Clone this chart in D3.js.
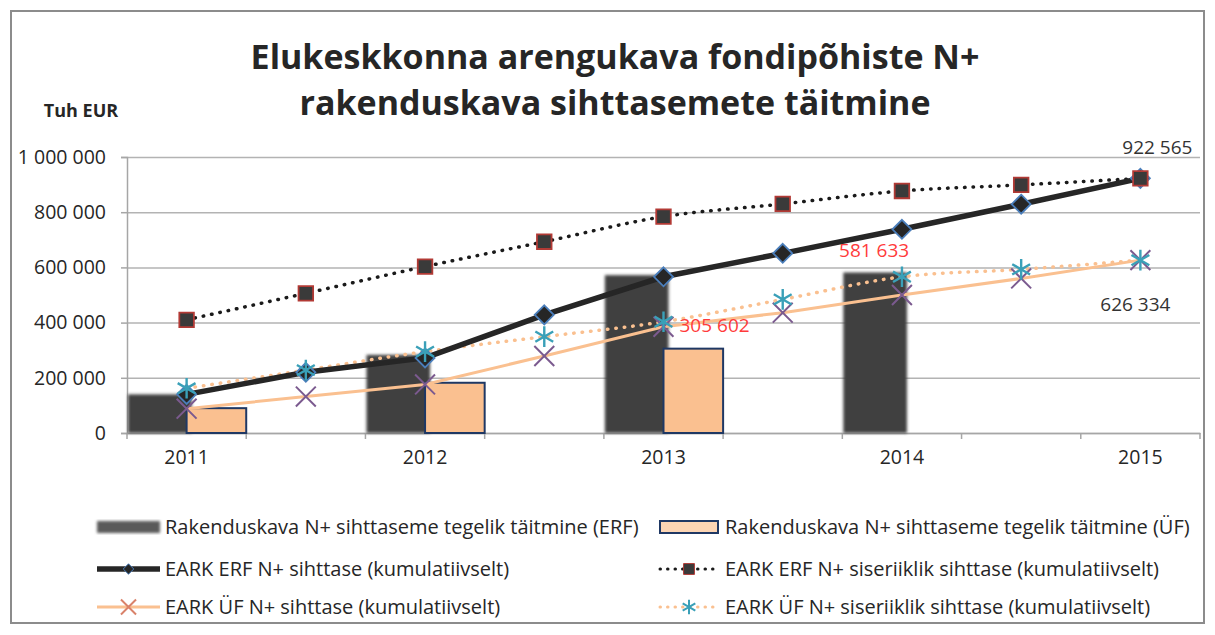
<!DOCTYPE html>
<html lang="et">
  <head>
    <meta charset="utf-8">
    <script src="https://d3js.org/d3.v7.min.js"></script>
    <style>
      body { margin: 0; background: #fff; }
      svg text { font-family: "Open Sans", Lato, sans-serif; fill: #262626; }
      .grid line { stroke: #b3b3b3; stroke-width: 1.5; }
      .grid path { display: none; }
      .ylab text { font-size: 19.5px; }
      .xlab text { font-size: 19.5px; }
      .legend text { font-size: 20px; }
    </style>
  </head>
  <body>
    <svg width="1215" height="635"></svg>
    <script>
      // categories (half-year steps, only whole years labelled)
      var periods = ["2011", "2011b", "2012", "2012b", "2013", "2013b", "2014", "2014b", "2015"];
      var tickLabels = ["2011", "", "2012", "", "2013", "", "2014", "", "2015"];
      var yTicks = [0, 200000, 400000, 600000, 800000, 1000000];

      // bars: actual fulfilment
      var erfActual = [140000, null, 283000, null, 572000, null, 581633, null, null];
      var ufActual = [90000, null, 182000, null, 305602, null, null, null, null];

      // lines: targets (cumulative)
      var erfTarget = [140000, 220000, 272000, 428000, 566000, 651000, 738000, 829000, 922565];
      var erfNational = [410000, 506000, 603000, 693000, 784000, 830000, 877000, 899000, 922565];
      var ufTarget = [88000, 132000, 176000, 279000, 385000, 436000, 500000, 560000, 626334];
      var ufNational = [162000, 228000, 295000, 349000, 403000, 484000, 566000, 593000, 626334];

      var legendLabels = [
        "Rakenduskava N+ sihttaseme tegelik täitmine (ERF)",
        "Rakenduskava N+ sihttaseme tegelik täitmine (ÜF)",
        "EARK ERF N+ sihttase (kumulatiivselt)",
        "EARK ERF N+ siseriiklik sihttase (kumulatiivselt)",
        "EARK ÜF N+ sihttase (kumulatiivselt)",
        "EARK ÜF N+ siseriiklik sihttase (kumulatiivselt)"
      ];

      var svg = d3.select("svg");
      var locale = d3.formatLocale({ thousands: " ", grouping: [3], decimal: ",", currency: ["", ""] });
      var fmt = locale.format(",");

      var pLeft = 127, pRight = 1200, pTop = 157, pBottom = 433;

      var x = d3.scaleBand().domain(periods).range([pLeft, pRight]).padding(0);
      var y = d3.scaleLinear().domain([0, 1000000]).range([pBottom, pTop]);
      var bw = x.bandwidth();
      var cx = function (i) { return x(periods[i]) + bw / 2; };

      // soft edges on the dark bars
      var defs = svg.append("defs");
      defs.append("filter").attr("id", "soft")
        .attr("x", "-10%").attr("y", "-10%").attr("width", "120%").attr("height", "120%")
        .append("feGaussianBlur").attr("stdDeviation", 1.6);

      // outer frame
      svg.append("rect")
        .attr("x", 11).attr("y", 11).attr("width", 1193).attr("height", 612)
        .attr("fill", "none").attr("stroke", "#8c8c8c").attr("stroke-width", 2);

      // title
      var title = svg.append("text")
        .attr("text-anchor", "middle")
        .attr("font-weight", "bold")
        .attr("font-size", "34px");
      title.append("tspan").attr("x", 615).attr("y", 69).text("Elukeskkonna arengukava fondipõhiste N+");
      title.append("tspan").attr("x", 615).attr("y", 115).text("rakenduskava sihttasemete täitmine");

      svg.append("text")
        .attr("x", 81).attr("y", 117)
        .attr("text-anchor", "middle")
        .attr("font-weight", "bold")
        .attr("font-size", "18px")
        .text("Tuh EUR");

      // gridlines
      svg.append("g")
        .attr("class", "grid")
        .attr("transform", "translate(" + pLeft + ",0)")
        .call(d3.axisLeft(y).tickValues(yTicks).tickSize(-(pRight - pLeft)).tickFormat(""));

      // y axis
      var yAxis = svg.append("g")
        .attr("class", "ylab")
        .attr("transform", "translate(" + pLeft + ",0)")
        .call(d3.axisLeft(y).tickValues(yTicks).tickSize(6).tickPadding(15).tickFormat(fmt));
      yAxis.select(".domain").attr("stroke", "#a6a6a6").attr("stroke-width", 1.5);
      yAxis.selectAll(".tick line").attr("stroke", "#a6a6a6").attr("stroke-width", 1.5);
      yAxis.selectAll("text").attr("fill", "#262626");

      // x axis
      var xAxis = svg.append("g")
        .attr("class", "xlab")
        .attr("transform", "translate(0," + pBottom + ")")
        .call(d3.axisBottom(x).tickSize(0).tickPadding(17).tickFormat(function (d, i) { return tickLabels[i]; }));
      xAxis.select(".domain").attr("stroke", "#a6a6a6").attr("stroke-width", 1.5);
      xAxis.selectAll("text").attr("fill", "#262626");
      // tick marks sit on category boundaries
      var bounds = periods.map(function (p) { return x(p); }).concat([x.range()[1]]);
      xAxis.selectAll(".bnd").data(bounds).enter().append("line")
        .attr("x1", function (d) { return d; }).attr("x2", function (d) { return d; })
        .attr("y1", 0).attr("y2", 6)
        .attr("stroke", "#a6a6a6").attr("stroke-width", 1.5);

      // bars
      svg.append("g").selectAll("rect")
        .data(erfActual.map(function (v, i) { return { v: v, i: i }; }).filter(function (d) { return d.v; }))
        .enter().append("rect")
        .attr("x", function (d) { return x(periods[d.i]) + 1; })
        .attr("y", function (d) { return y(d.v); })
        .attr("width", bw / 2 + 4)
        .attr("height", function (d) { return y(0) - y(d.v); })
        .attr("fill", "#3f3f3f")
        .attr("filter", "url(#soft)");

      svg.append("g").selectAll("rect")
        .data(ufActual.map(function (v, i) { return { v: v, i: i }; }).filter(function (d) { return d.v; }))
        .enter().append("rect")
        .attr("x", function (d) { return x(periods[d.i]) + bw / 2; })
        .attr("y", function (d) { return y(d.v); })
        .attr("width", bw / 2)
        .attr("height", function (d) { return y(0) - y(d.v); })
        .attr("fill", "#fac090")
        .attr("stroke", "#1f3864")
        .attr("stroke-width", 2);

      // lines
      function line(curve) {
        return d3.line().x(function (d, i) { return cx(i); }).y(function (d) { return y(d); }).curve(curve);
      }

      svg.append("path").datum(erfNational)
        .attr("d", line(d3.curveMonotoneX))
        .attr("fill", "none").attr("stroke", "#1a1a1a").attr("stroke-width", 3.5)
        .attr("stroke-dasharray", "0.5,8").attr("stroke-linecap", "round");

      svg.append("path").datum(ufNational)
        .attr("d", line(d3.curveMonotoneX))
        .attr("fill", "none").attr("stroke", "#fac090").attr("stroke-width", 3.5)
        .attr("stroke-dasharray", "0.5,8").attr("stroke-linecap", "round");

      svg.append("path").datum(ufTarget)
        .attr("d", line(d3.curveLinear))
        .attr("fill", "none").attr("stroke", "#fac090").attr("stroke-width", 3);

      svg.append("path").datum(erfTarget)
        .attr("d", line(d3.curveLinear))
        .attr("fill", "none").attr("stroke", "#262626").attr("stroke-width", 5.5);

      // markers
      var diamond = d3.symbol().type(d3.symbolDiamond2).size(230);
      var square = d3.symbol().type(d3.symbolSquare2).size(270);
      var times = d3.symbol().type(d3.symbolTimes).size(260);
      var aster = d3.symbol().type(d3.symbolAsterisk).size(300);

      function markers(data, sym, fill, stroke, sw) {
        svg.append("g").selectAll("path").data(data).enter().append("path")
          .attr("transform", function (d, i) { return "translate(" + cx(i) + "," + y(d) + ")"; })
          .attr("d", sym)
          .attr("fill", fill).attr("stroke", stroke).attr("stroke-width", sw);
      }
      markers(erfTarget, diamond, "#262626", "#4a7ebb", 1.8);
      markers(erfNational, square, "#3a3a3a", "#b23a35", 1.8);
      markers(ufTarget, times, "none", "#7b5a8f", 2);
      markers(ufNational, aster, "none", "#3aa0b8", 2.4);

      // data labels
      svg.append("text")
        .attr("x", cx(4) + 16).attr("y", y(ufNational[4]) + 10)
        .attr("font-size", "19px").style("fill", "#ff3b3b")
        .text(fmt(ufActual[4]));
      svg.append("text")
        .attr("x", x(periods[6]) + bw / 4 + 2).attr("y", y(erfActual[6]) - 15)
        .attr("text-anchor", "middle")
        .attr("font-size", "19px").style("fill", "#ff3b3b")
        .text(fmt(erfActual[6]));
      svg.append("text")
        .attr("x", cx(8) + 17).attr("y", pTop - 3)
        .attr("text-anchor", "middle")
        .attr("font-size", "19px").style("fill", "#333")
        .text(fmt(erfTarget[8]));
      svg.append("text")
        .attr("x", cx(8) - 5).attr("y", y(ufTarget[8]) + 51)
        .attr("text-anchor", "middle")
        .attr("font-size", "19px").style("fill", "#333")
        .text(fmt(ufTarget[8]));

      // legend
      var lg = svg.append("g").attr("class", "legend");
      var rows = [527, 569, 607];
      var cols = [{ s: 97, e: 160, t: 165 }, { s: 660, e: 718, t: 725 }];
      var styles = [
        null, null,
        { st: "#262626", w: 5.5, dash: null, sym: d3.symbolDiamond2, f: "#262626", sc: "#4a7ebb", sw: 1, sz: 70 },
        { st: "#1a1a1a", w: 3, dash: "0.5,7", sym: d3.symbolSquare2, f: "#3a3a3a", sc: "#b23a35", sw: 1, sz: 150 },
        { st: "#fac090", w: 3, dash: null, sym: d3.symbolTimes, f: "none", sc: "#d9826a", sw: 2, sz: 150 },
        { st: "#fac090", w: 3, dash: "0.5,7", sym: d3.symbolAsterisk, f: "none", sc: "#3aa0b8", sw: 2, sz: 150 }
      ];
      legendLabels.forEach(function (lab, k) {
        var c = cols[k % 2], r = rows[Math.floor(k / 2)];
        lg.append("text").attr("x", c.t).attr("y", r + 7).text(lab);
        var mid = (c.s + c.e) / 2;
        if (k === 0) {
          lg.append("rect").attr("x", c.s).attr("y", r - 6).attr("width", c.e - c.s).attr("height", 12)
            .attr("fill", "#5a5a5a").attr("filter", "url(#soft)");
        } else if (k === 1) {
          lg.append("rect").attr("x", c.s).attr("y", r - 6).attr("width", c.e - c.s).attr("height", 12)
            .attr("fill", "#fcd5b4").attr("stroke", "#1f3864").attr("stroke-width", 2);
        } else {
          var s = styles[k];
          lg.append("line").attr("x1", c.s).attr("x2", c.e).attr("y1", r).attr("y2", r)
            .attr("stroke", s.st).attr("stroke-width", s.w)
            .attr("stroke-dasharray", s.dash).attr("stroke-linecap", s.dash ? "round" : "butt");
          lg.append("path").attr("transform", "translate(" + mid + "," + r + ")")
            .attr("d", d3.symbol().type(s.sym).size(s.sz))
            .attr("fill", s.f).attr("stroke", s.sc).attr("stroke-width", s.sw);
        }
      });
    </script>
  </body>
</html>
